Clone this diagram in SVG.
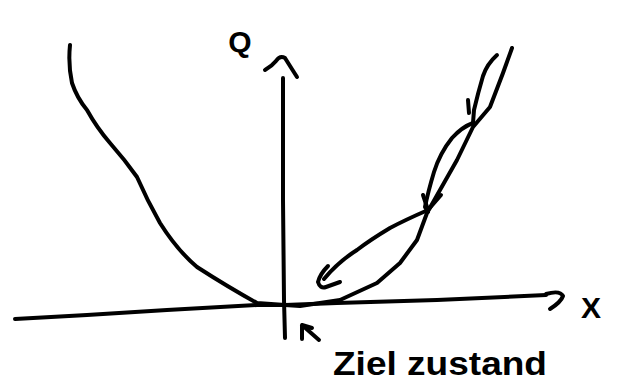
<svg xmlns="http://www.w3.org/2000/svg" width="620" height="383" viewBox="0 0 620 383">
<style>
.s{fill:none;stroke:#000;stroke-width:4;stroke-linecap:round;stroke-linejoin:round}
.t{font-family:"Liberation Sans",Arial,sans-serif;fill:#000;font-weight:bold}
</style>
<rect width="620" height="383" fill="#fff"/>
<g id="axes">
<path class="s" d="M15,319 L87,315 L167,310 L257,305 L285,305 L337,303 L437,300 L546,295"/>
<path class="s" d="M546,294 Q560,290 563,296 Q561,302 550,309"/>
<path class="s" d="M285,338 L284,300 L283,200 L283,78"/>
<path class="s" d="M265,70 Q272,66 276,61 Q280,55 285,58 Q290,66 297,77"/>
</g>
<g id="curves">
<path class="s" d="M70,45 Q68,65 72,83 Q77,98 87,110 Q97,128 110,143 Q125,160 137,177 Q147,200 160,223 Q177,250 197,267 Q228,287 257,303 L285,305"/>
<path class="s" d="M512,48 L503,73 L490,107 L473,127 L457,160 L440,190 L427,213 L417,240 L400,263 L377,283 L340,300 L300,306 L285,305"/>
<path class="s" d="M497,55 Q487,64 483,76 Q478,93 474,110 L473,123"/>
<path class="s" d="M468,100 L469,113"/>
<path class="s" d="M473,123 Q462,127 452,138 Q440,153 434,172 Q428,192 425,207 L428,212"/>
<path class="s" d="M423,195 L428,210 L441,195"/>
<path class="s" d="M428,210 Q405,220 390,228 Q370,240 357,250 Q338,262 324,279"/>
<path class="s" d="M328,266 Q320,274 318,282 Q320,289 326,287 L340,282"/>
</g>
<g id="pointer">
<path class="s" d="M302,339 L302,325 L312,328 M302,325 L319,340"/>
</g>
<g id="labels">
<text class="t" x="240" y="52" font-size="30" text-anchor="middle">Q</text>
<text class="t" x="591" y="318" font-size="30" text-anchor="middle">X</text>
<text class="t" x="333" y="375" font-size="34" textLength="214" lengthAdjust="spacingAndGlyphs">Ziel zustand</text>
</g>
</svg>
